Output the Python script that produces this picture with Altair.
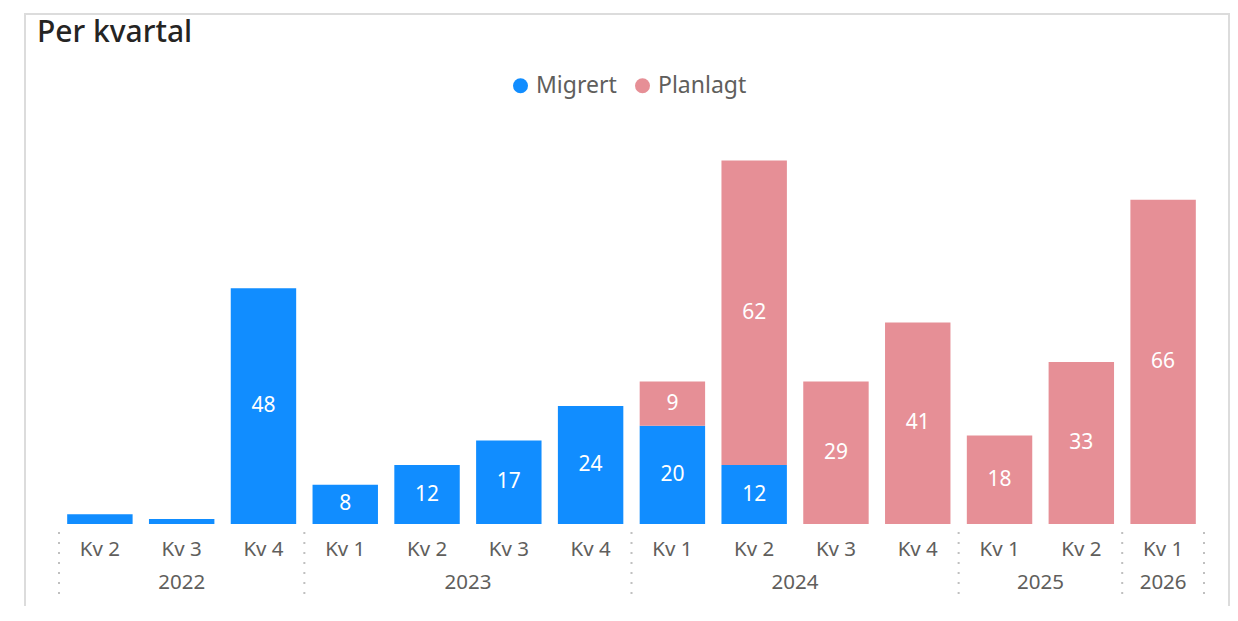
import altair as alt
import pandas as pd

quarters = ["Kv 2", "Kv 3", "Kv 4", "Kv 1", "Kv 2", "Kv 3", "Kv 4",
            "Kv 1", "Kv 2", "Kv 3", "Kv 4", "Kv 1", "Kv 2", "Kv 1"]
years = [2022, 2022, 2022, 2023, 2023, 2023, 2023,
         2024, 2024, 2024, 2024, 2025, 2025, 2026]
migrert = [2, 1, 48, 8, 12, 17, 24, 20, 12, 0, 0, 0, 0, 0]
planlagt = [0, 0, 0, 0, 0, 0, 0, 9, 62, 29, 41, 18, 33, 66]
series = ["Migrert", "Planlagt"]
colors = ["#118DFF", "#E68F96"]
title_text = "Per kvartal"

# long table for bars
rows = []
for i, (q, yr) in enumerate(zip(quarters, years)):
    for k, (s, vals) in enumerate(zip(series, [migrert, planlagt])):
        rows.append({"idx": i, "quarter": q, "year": yr, "series": s,
                     "value": vals[i], "order": k})
df = pd.DataFrame(rows)

# quarter labels
df_q = pd.DataFrame({"idx": list(range(len(quarters))), "quarter": quarters})

# year labels & separators
uniq_years = sorted(set(years))
yr_pos, seps = [], [-0.5]
for yv in uniq_years:
    ids = [i for i, v in enumerate(years) if v == yv]
    yr_pos.append({"pos": (ids[0] + ids[-1]) / 2, "year": str(yv)})
    seps.append(ids[-1] + 0.5)
df_y = pd.DataFrame(yr_pos)
df_s = pd.DataFrame({"pos": seps})

W, H = 1145, 393
xscale = alt.Scale(domain=[-0.5, len(quarters) - 0.5], nice=False, zero=False)
yscale = alt.Scale(domain=[0, 80], nice=False)
FONT = "Noto Sans"

stacked = (alt.Chart(df)
           .transform_filter("datum.value > 0")
           .transform_stack(stack="value", groupby=["idx"], as_=["y0", "y1"],
                            sort=[alt.SortField("order")])
           .transform_calculate(xa="datum.idx - 0.4", xb="datum.idx + 0.4",
                                ym="(datum.y0 + datum.y1) / 2"))

bars = stacked.mark_bar().encode(
    x=alt.X("xa:Q", scale=xscale, axis=None),
    x2="xb:Q",
    y=alt.Y("y0:Q", scale=yscale, axis=None),
    y2="y1:Q",
    color=alt.Color("series:N",
                    scale=alt.Scale(domain=series, range=colors),
                    legend=alt.Legend(orient="none", legendX=450, legendY=-57,
                                      direction="horizontal", title=None,
                                      symbolType="circle", symbolSize=225,
                                      symbolStrokeWidth=0,
                                      labelFontSize=23, labelFont=FONT,
                                      labelColor="#605E5C", labelOffset=4,
                                      columnPadding=14)),
)

labels = stacked.transform_filter("datum.value >= 5").mark_text(
    color="white", fontSize=21, font=FONT, baseline="middle"
).encode(
    x=alt.X("idx:Q", scale=xscale),
    y=alt.Y("ym:Q", scale=yscale),
    text="value:Q",
)

qlab = alt.Chart(df_q).mark_text(
    color="#605E5C", fontSize=20.5, font=FONT, baseline="middle"
).encode(
    x=alt.X("idx:Q", scale=xscale),
    y=alt.value(H + 26),
    text="quarter:N",
)

ylab = alt.Chart(df_y).mark_text(
    color="#605E5C", fontSize=20.5, font=FONT, baseline="middle"
).encode(
    x=alt.X("pos:Q", scale=xscale),
    y=alt.value(H + 59),
    text="year:N",
)

sep = alt.Chart(df_s).mark_rule(
    color="#c0c0c0", strokeWidth=2, strokeDash=[2, 8]
).encode(
    x=alt.X("pos:Q", scale=xscale),
    y=alt.value(H + 8),
    y2=alt.value(H + 77),
)

one = pd.DataFrame({"title": [title_text]})

frame = alt.Chart(one).mark_rect(
    fillOpacity=0, stroke="#dcdcdc", strokeWidth=2
).encode(
    x=alt.value(-34), x2=alt.value(1170),
    y=alt.value(-117), y2=alt.value(520),
)

title = alt.Chart(one).mark_text(
    fontSize=30, font=FONT, fontWeight=500, color="#252423", align="left",
    baseline="alphabetic"
).encode(
    x=alt.value(-22), y=alt.value(-89), text="title:N",
)

chart = alt.layer(frame, title, bars, labels, qlab, ylab, sep).properties(
    width=W, height=H,
    autosize=alt.AutoSizeParams(type="none"),
    padding={"left": 51, "top": 123, "right": 26, "bottom": 82},
).configure_view(stroke=None)

chart.save("out.html", embed_options={"renderer": "svg", "actions": False})
